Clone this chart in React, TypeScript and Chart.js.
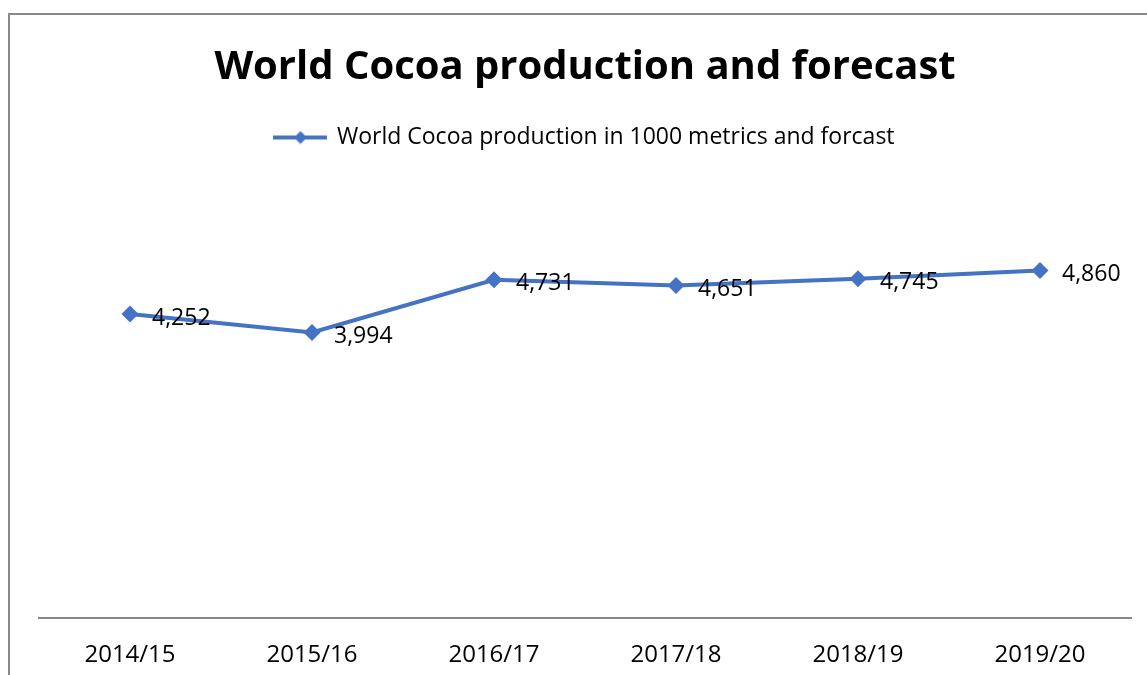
import React, { useEffect, useRef } from "react";
import { Chart, registerables } from "chart.js";

Chart.register(...registerables);

const categories = ["2014/15", "2015/16", "2016/17", "2017/18", "2018/19", "2019/20"];
const production = [4252, 3994, 4731, 4651, 4745, 4860];
const seriesLabel = "World Cocoa production in 1000 metrics and forcast";
const chartTitle = "World Cocoa production and forecast";

const BLUE = "#4472C4";
const FONT = "'Open Sans', 'Noto Sans', sans-serif";

function makeLegendIcon(): HTMLCanvasElement {
  const c = document.createElement("canvas");
  c.width = 54;
  c.height = 14;
  const ctx = c.getContext("2d")!;
  ctx.strokeStyle = BLUE;
  ctx.lineWidth = 4;
  ctx.beginPath();
  ctx.moveTo(0, 7);
  ctx.lineTo(54, 7);
  ctx.stroke();
  ctx.fillStyle = BLUE;
  ctx.beginPath();
  ctx.moveTo(27, 0.5);
  ctx.lineTo(33.5, 7);
  ctx.lineTo(27, 13.5);
  ctx.lineTo(20.5, 7);
  ctx.closePath();
  ctx.fill();
  return c;
}

const legendSpacing = {
  id: "legendSpacing",
  beforeInit(chart: any) {
    const legend = chart.legend;
    if (!legend) return;
    const origFit = legend.fit;
    legend.fit = function () {
      origFit.call(this);
      this.height += 30;
    };
  },
};

const dataLabels = {
  id: "dataLabels",
  afterDatasetsDraw(chart: any) {
    const ctx = chart.ctx;
    const meta = chart.getDatasetMeta(0);
    const values = chart.data.datasets[0].data as number[];
    ctx.save();
    ctx.font = `23px ${FONT}`;
    ctx.fillStyle = "#000";
    ctx.textAlign = "left";
    ctx.textBaseline = "middle";
    meta.data.forEach((pt: any, i: number) => {
      ctx.fillText(values[i].toLocaleString("en-US"), pt.x + 22, pt.y + 4);
    });
    ctx.restore();
  },
};

export default function App() {
  const ref = useRef<HTMLCanvasElement>(null);
  useEffect(() => {
    if (!ref.current) return;
    const icon = makeLegendIcon();
    const chart = new Chart(ref.current, {
      type: "line",
      data: {
        labels: categories,
        datasets: [
          {
            label: seriesLabel,
            data: production,
            borderColor: BLUE,
            backgroundColor: BLUE,
            borderWidth: 4,
            pointStyle: "rectRot",
            pointRadius: 8.5,
            pointBorderWidth: 0,
            pointBackgroundColor: BLUE,
            tension: 0,
          },
        ],
      },
      options: {
        animation: false,
        responsive: false,
        events: [],
        layout: { padding: { left: 29, right: 16, top: 0, bottom: 6 } },
        plugins: {
          title: {
            display: true,
            text: chartTitle,
            color: "#000",
            font: { family: FONT, size: 40, weight: "bold" },
            padding: { top: 29, bottom: 24 },
          },
          legend: {
            display: true,
            labels: {
              color: "#000",
              font: { family: FONT, size: 23 },
              usePointStyle: true,
              pointStyle: icon as any,
              pointStyleWidth: 50,
              padding: 10,
              generateLabels: () => [
                {
                  text: seriesLabel,
                  pointStyle: icon as any,
                  fillStyle: BLUE,
                  strokeStyle: BLUE,
                  lineWidth: 0,
                  hidden: false,
                  datasetIndex: 0,
                } as any,
              ],
            },
          },
          tooltip: { enabled: false },
        },
        scales: {
          x: {
            offset: true,
            grid: { display: false, drawTicks: false },
            border: { display: true, color: "#898989", width: 2 },
            ticks: { color: "#000", font: { family: FONT, size: 24 }, padding: 23 },
          },
          y: {
            display: false,
            min: 0,
            max: 6000,
          },
        },
      },
      plugins: [legendSpacing, dataLabels],
    });
    return () => chart.destroy();
  }, []);
  return (
    <div style={{ position: "fixed", left: 0, top: 0, width: 1147, height: 675, overflow: "hidden", background: "#fff" }}>
      <div style={{ position: "absolute", left: 8, top: 13, width: 1200, height: 700, border: "2px solid #898989", boxSizing: "border-box" }} />
      <canvas ref={ref} width={1137} height={684} style={{ position: "absolute", left: 10, top: 15 }} />
    </div>
  );
}
